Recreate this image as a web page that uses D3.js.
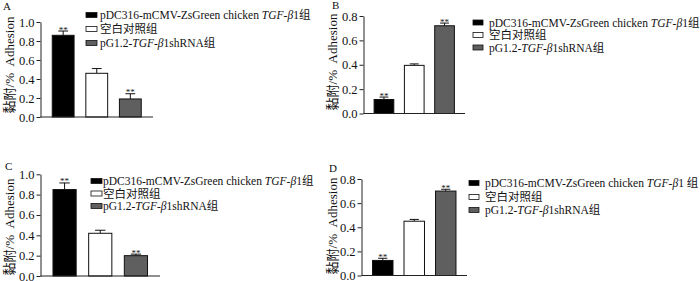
<!DOCTYPE html>
<html>
<head>
<meta charset="utf-8">
<script src="https://cdn.jsdelivr.net/npm/d3@7"></script>
<style>
  body { margin: 0; background: #fff; }
  svg { display: block; }
  text { font-family: "Liberation Serif", "Times New Roman", "Noto Sans CJK SC", serif; fill: #111; }
</style>
</head>
<body>
<div id="chart"></div>
<script>
// groups shown in every panel
const categories = ["pDC316-mCMV-ZsGreen chicken TGF-β1组", "空白对照组", "pG1.2-TGF-β1shRNA组"];
// legend text split in plain / italic parts
const legendParts = [
  [["pDC316-mCMV-ZsGreen chicken ", false], ["TGF-β", true], ["1组", false]],
  [["空白对照组", false]],
  [["pG1.2-", false], ["TGF-β", true], ["1shRNA组", false]]
];
const legendPartsD = [
  [["pDC316-mCMV-ZsGreen chicken ", false], ["TGF-β", true], ["1 组", false]],
  [["空白对照组", false]],
  [["pG1.2-", false], ["TGF-β", true], ["1shRNA组", false]]
];

const valuesA = [0.86, 0.46, 0.19];
const errA = [0.045, 0.05, 0.055];
const sigA = ["**", "", "**"];

const valuesB = [0.115, 0.395, 0.72];
const errB = [0.02, 0.012, 0.022];
const sigB = ["**", "", "**"];

const valuesC = [0.85, 0.42, 0.20];
const errC = [0.065, 0.03, 0.015];
const sigC = ["**", "", "**"];

const valuesD = [0.125, 0.45, 0.70];
const errD = [0.018, 0.015, 0.015];
const sigD = ["**", "", "**"];

const ticksAC = [0, 0.2, 0.4, 0.6, 0.8, 1.0];
const ticksBD = [0, 0.2, 0.4, 0.6, 0.8];

const yLabelCn = "黏附/%";
const yLabelEn = "Adhesion";

const fills = ["#000000", "#ffffff", "#5f5f5f"];

const width = 700, height = 281;

const svg = d3.select("#chart").append("svg")
  .attr("width", width)
  .attr("height", height);
svg.append("rect").attr("width", width).attr("height", height).attr("fill", "#fff");

// layout of the four panels
const panels = [
  { name: "A", values: valuesA, err: errA, sig: sigA, ticks: ticksAC, max: 1.0,
    x0: 40.5, x1: 153, y0: 117, yTop: 22,
    legX: 86, legW: 11, legTextX: 100, legRows: [15, 29, 43], parts: legendParts,
    labX: 3, labY: 10, ylabX: 9, ylabY: 65 },
  { name: "B", values: valuesB, err: errB, sig: sigB, ticks: ticksBD, max: 0.8,
    x0: 363.5, x1: 465, y0: 113.5, yTop: 16,
    legX: 473, legW: 10, legTextX: 489, legRows: [22.5, 35, 47.5], parts: legendParts,
    labX: 332, labY: 9, ylabX: 332, ylabY: 62 },
  { name: "C", values: valuesC, err: errC, sig: sigC, ticks: ticksAC, max: 1.0,
    x0: 40.5, x1: 160, y0: 276, yTop: 174.3,
    legX: 91, legW: 11, legTextX: 103, legRows: [181, 193.5, 206], parts: legendParts,
    labX: 5, labY: 170, ylabX: 9, ylabY: 227 },
  { name: "D", values: valuesD, err: errD, sig: sigD, ticks: ticksBD, max: 0.8,
    x0: 361.5, x1: 467, y0: 275.5, yTop: 179,
    legX: 469, legW: 10, legTextX: 485, legRows: [183, 197, 210], parts: legendPartsD,
    labX: 329, labY: 172, ylabX: 332, ylabY: 226 }
];

panels.forEach(p => {
  const g = svg.append("g");

  const x = d3.scaleBand()
    .domain(categories)
    .range([p.x0, p.x1])
    .paddingInner(0.35)
    .paddingOuter(0.35);
  const y = d3.scaleLinear()
    .domain([0, p.max])
    .range([p.y0, p.yTop]);

  const rows = categories.map((c, i) => ({ cat: c, v: p.values[i], e: p.err[i], s: p.sig[i], fill: fills[i] }));

  // error bars (upper half only, drawn under bars)
  const cw = x.bandwidth() * 0.45;
  g.selectAll(".err")
    .data(rows)
    .enter()
    .append("path")
      .attr("d", d => {
        const cx = x(d.cat) + x.bandwidth() / 2;
        return "M" + cx + "," + y(d.v) + "V" + y(d.v + d.e) + "M" + (cx - cw / 2) + "," + y(d.v + d.e) + "H" + (cx + cw / 2);
      })
      .attr("stroke", "#111")
      .attr("stroke-width", 1)
      .attr("fill", "none");

  // bars
  g.selectAll(".bar")
    .data(rows)
    .enter()
    .append("rect")
      .attr("x", d => x(d.cat))
      .attr("y", d => y(d.v))
      .attr("width", x.bandwidth())
      .attr("height", d => y(0) - y(d.v))
      .attr("fill", d => d.fill)
      .attr("stroke", "#111")
      .attr("stroke-width", 1);

  // significance marks
  g.selectAll(".sig")
    .data(rows)
    .enter()
    .append("text")
      .attr("x", d => x(d.cat) + x.bandwidth() / 2)
      .attr("y", d => y(d.v + d.e) + 1.5)
      .attr("text-anchor", "middle")
      .style("font-size", "9px")
      .text(d => d.s);

  // left axis
  const yAxis = g.append("g")
    .attr("transform", "translate(" + p.x0 + ",0)")
    .call(d3.axisLeft(y).tickValues(p.ticks).tickFormat(d3.format(".1f")).tickSize(4).tickSizeOuter(0).tickPadding(2));
  yAxis.select(".domain").attr("stroke", "#222");
  yAxis.selectAll(".tick line").attr("stroke", "#222");
  yAxis.selectAll(".tick text")
    .style("font-size", "12.5px")
    .style("font-family", "'Liberation Serif', serif")
    .attr("fill", "#111");

  // bottom axis line, no ticks
  g.append("line")
    .attr("x1", p.x0).attr("x2", p.x1)
    .attr("y1", y(0)).attr("y2", y(0))
    .attr("stroke", "#222");

  // y label
  const yl = g.append("text")
    .attr("transform", "translate(" + p.ylabX + "," + p.ylabY + ") rotate(-90)")
    .attr("text-anchor", "middle")
    .attr("dominant-baseline", "central")
    .style("font-size", "13px");
  yl.append("tspan").text(yLabelCn);
  yl.append("tspan").text("\u00a0\u00a0" + yLabelEn);

  // panel letter
  g.append("text")
    .attr("x", p.labX)
    .attr("y", p.labY)
    .style("font-size", "11px")
    .text(p.name);

  // legend
  const leg = g.selectAll(".leg")
    .data(rows)
    .enter()
    .append("g");
  leg.append("rect")
    .attr("x", p.legX)
    .attr("y", (d, i) => p.legRows[i] - 2.5)
    .attr("width", p.legW)
    .attr("height", 5)
    .attr("fill", d => d.fill)
    .attr("stroke", "#111")
    .attr("stroke-width", 0.8);
  leg.append("text")
    .attr("x", p.legTextX)
    .attr("y", (d, i) => p.legRows[i] + 4)
    .style("font-size", "11.5px")
    .each(function(d, i) {
      const t = d3.select(this);
      p.parts[i].forEach(part => {
        t.append("tspan")
          .style("font-style", part[1] ? "italic" : "normal")
          .text(part[0]);
      });
    });
});
</script>
</body>
</html>
